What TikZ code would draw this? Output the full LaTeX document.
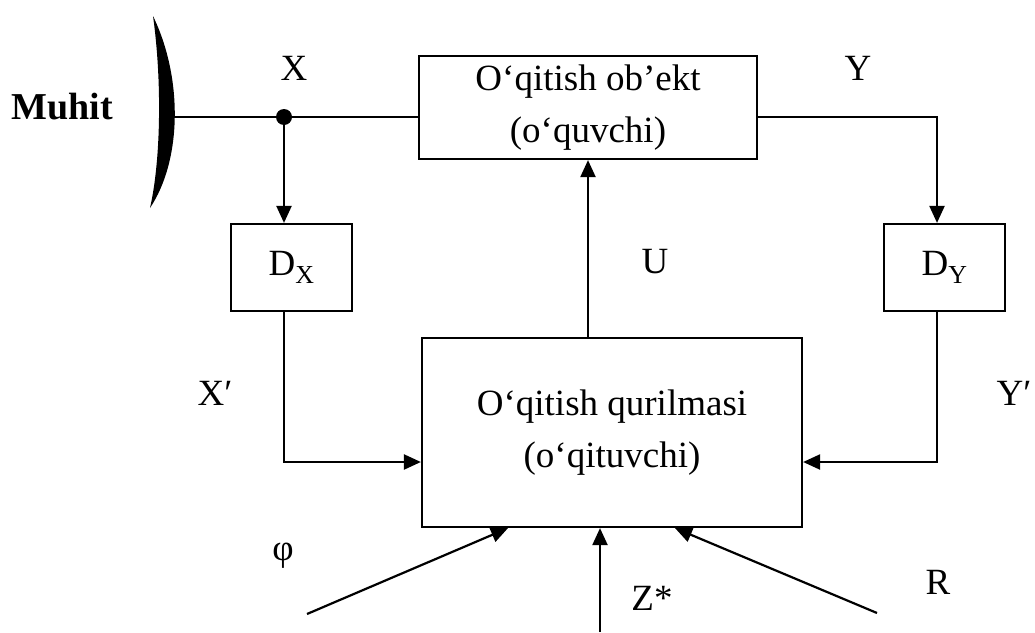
\documentclass[tikz,border=0pt]{standalone}
\usepackage{fontspec}
\setmainfont{Liberation Serif}
\usetikzlibrary{arrows.meta}
\begin{document}
\begin{tikzpicture}[x=1pt,y=-1pt,
  line width=2.2pt,
  arr/.style={-{Triangle[length=17pt,width=15pt]}},
  blk/.style={draw,rectangle,inner sep=0pt,align=center,font=\fontsize{37}{52}\selectfont},
  lbl/.style={inner sep=0pt,font=\fontsize{37}{40}\selectfont}]
\useasboundingbox (0,0) rectangle (1035,632);
% blocks
\node[blk,minimum width=338pt,minimum height=103pt] (obj) at (588,107.5) {O‘qitish ob’ekt\\(o‘quvchi)};
\node[blk,minimum width=380pt,minimum height=189pt] (main) at (612,432.5) {O‘qitish qurilmasi\\(o‘qituvchi)};
\node[blk,minimum width=121pt,minimum height=87pt] (dx) at (291.5,267.5) {D\textsubscript{X}};
\node[blk,minimum width=121pt,minimum height=87pt] (dy) at (944.5,267.5) {D\textsubscript{Y}};
% environment bracket
\fill (153,16) .. controls (183,78) and (182,160) .. (150,208)
      .. controls (161,160) and (162,80) .. (153,16);
\coordinate (env) at (173,117);
\node[inner sep=0pt,font=\fontsize{38}{40}\selectfont\bfseries] (muhit) at (62,107) {Muhit};
% coordinates
\coordinate (dot) at (284,117);
\coordinate (yc) at (937,117);
\coordinate (zs) at (600,632);
\coordinate (ph) at (307,614);
\coordinate (rs) at (877,613);
% connectors
\draw (env) -- (env -| obj.west);
\fill (dot) circle (8pt);
\draw[arr] (dot) -- (dot |- dx.north);
\draw[arr] (obj.east |- yc) -- (yc) -- (yc |- dy.north);
\draw[arr] (obj.south |- main.north) -- (obj.south);
\draw[arr] (dot |- dx.south) |- ([yshift=-29.5pt]main.west);
\draw[arr] (yc |- dy.south) |- ([yshift=-29.5pt]main.east);
\draw[arr] (zs) -- (zs |- main.south);
\draw[arr] (ph) -- ([xshift=-104pt]main.south);
\draw[arr] (rs) -- ([xshift=63pt]main.south);
% labels
\node[lbl] (lx) at (294,68) {X};
\node[lbl] (ly) at (858,68) {Y};
\node[lbl] (lu) at (655,262) {U};
\node[lbl] (lxp) at (215,393) {X′};
\node[lbl] (lyp) at (1014,393) {Y′};
\node[lbl] (lz) at (652,598) {Z*};
\node[lbl] (lr) at (938,582) {R};
\node[lbl] (lphi) at (283,556) {φ};
\end{tikzpicture}
\end{document}
